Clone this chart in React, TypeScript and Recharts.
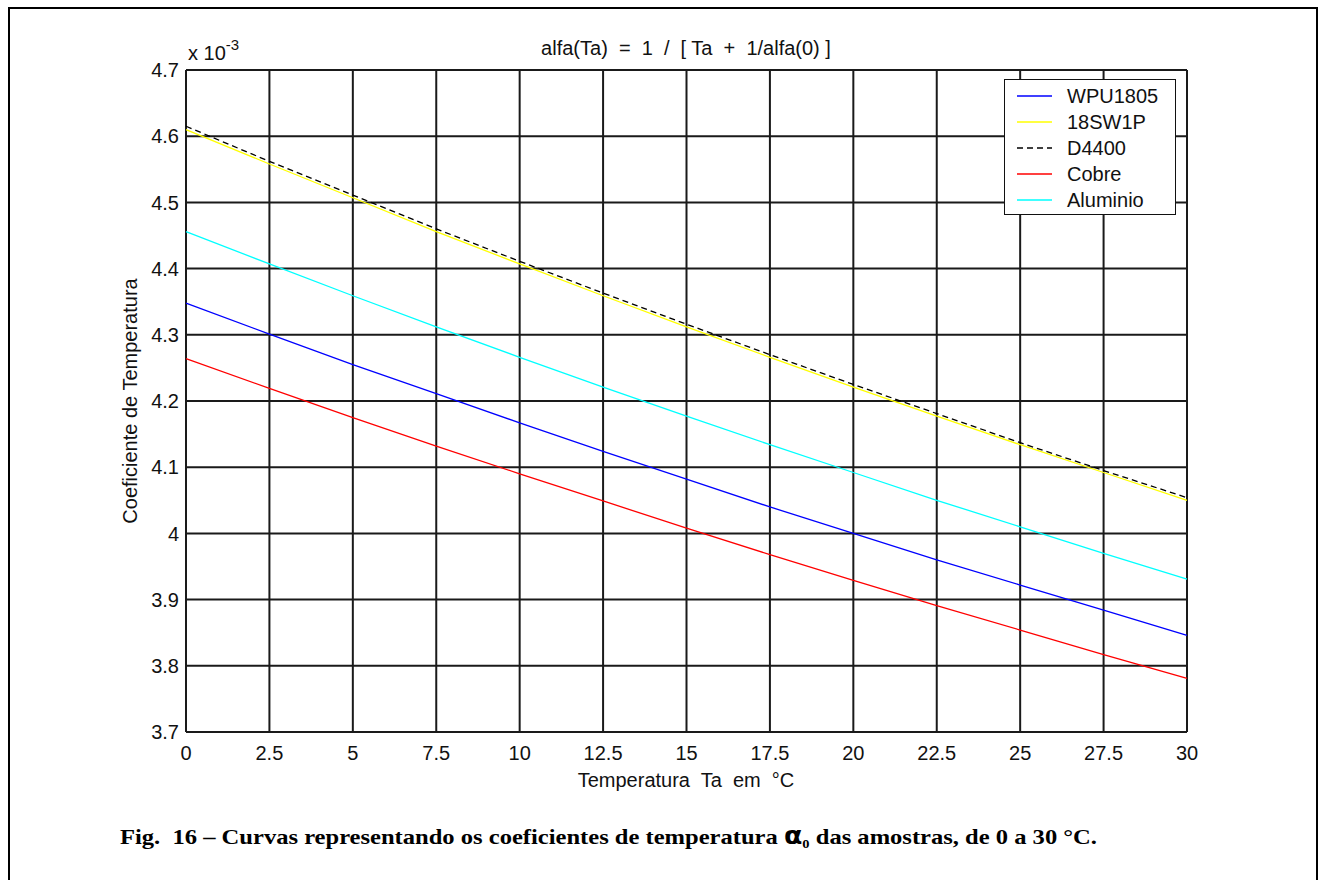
import { LineChart, Line, XAxis, YAxis, CartesianGrid, Legend } from "recharts";

// temperatura ambiente (°C)
const temps = [0, 2.5, 5, 7.5, 10, 12.5, 15, 17.5, 20, 22.5, 25, 27.5, 30];

// coeficientes de temperatura, em unidades de 10^-3
const wpu1805 = [4.348, 4.301, 4.255, 4.211, 4.167, 4.124, 4.082, 4.04, 4.0, 3.96, 3.922, 3.884, 3.846];
const sw1p = [4.61, 4.558, 4.507, 4.456, 4.407, 4.359, 4.312, 4.266, 4.221, 4.177, 4.134, 4.092, 4.05];
const d4400 = [4.615, 4.562, 4.511, 4.46, 4.411, 4.363, 4.316, 4.27, 4.225, 4.181, 4.137, 4.095, 4.054];
const cobre = [4.264, 4.219, 4.175, 4.132, 4.09, 4.049, 4.008, 3.968, 3.929, 3.891, 3.854, 3.817, 3.781];
const aluminio = [4.456, 4.407, 4.359, 4.312, 4.266, 4.221, 4.177, 4.134, 4.092, 4.05, 4.01, 3.97, 3.931];

const xTicks = [0, 2.5, 5, 7.5, 10, 12.5, 15, 17.5, 20, 22.5, 25, 27.5, 30];
const yTicks = [3.7, 3.8, 3.9, 4, 4.1, 4.2, 4.3, 4.4, 4.5, 4.6, 4.7];

const series = [
  { key: "wpu1805", name: "WPU1805", color: "#0000ff", dash: undefined },
  { key: "sw1p", name: "18SW1P", color: "#ffff00", dash: undefined },
  { key: "d4400", name: "D4400", color: "#000000", dash: "6 4" },
  { key: "cobre", name: "Cobre", color: "#ff0000", dash: undefined },
  { key: "aluminio", name: "Aluminio", color: "#00ffff", dash: undefined },
];

const data = temps.map((t, i) => ({
  t,
  wpu1805: wpu1805[i],
  sw1p: sw1p[i],
  d4400: d4400[i],
  cobre: cobre[i],
  aluminio: aluminio[i],
}));

const sans = "'Liberation Sans', Arial, sans-serif";
const tickStyle = { fontSize: 20, fill: "#111", fontFamily: sans };

const LegendBox = () => (
  <div
    style={{
      width: 172,
      height: 136,
      boxSizing: "border-box",
      border: "1.5px solid #111",
      background: "#fff",
      paddingTop: 3,
      fontFamily: sans,
      fontSize: 20,
      color: "#111",
    }}
  >
    {series.map((s) => (
      <div key={s.key} style={{ display: "flex", alignItems: "center", height: 26 }}>
        <svg width={62} height={26}>
          <line x1={12} x2={47} y1={13} y2={13} stroke={s.color} strokeWidth={1.5} strokeDasharray={s.dash} />
        </svg>
        <span>{s.name}</span>
      </div>
    ))}
  </div>
);

const App = () => {
  return (
    <div style={{ position: "absolute", left: 0, top: 0, width: 1320, height: 880, background: "#fff" }}>
      <div
        style={{
          position: "absolute",
          left: 8,
          top: 7,
          width: 1310,
          height: 880,
          boxSizing: "border-box",
          border: "2px solid #000",
          borderBottom: "none",
        }}
      />
      <LineChart
        width={1320}
        height={880}
        data={data}
        margin={{ top: 70, right: 133, bottom: 118, left: 126 }}
        style={{ position: "absolute", left: 0, top: 0 }}
      >
        <CartesianGrid stroke="#1a1a1a" strokeWidth={2} />
        <XAxis
          dataKey="t"
          type="number"
          domain={[0, 30]}
          ticks={xTicks}
          height={30}
          axisLine={false}
          tickLine={false}
          tickMargin={8}
          tick={tickStyle}
          interval={0}
        />
        <YAxis
          type="number"
          domain={[3.7, 4.7]}
          ticks={yTicks}
          width={60}
          axisLine={false}
          tickLine={false}
          tickMargin={1}
          tick={tickStyle}
          interval={0}
          tickFormatter={(v: number) => String(v)}
        />
        {/* vertical + center + middle keeps the legend from taking space off the plot */}
        <Legend
          layout="vertical"
          align="center"
          verticalAlign="middle"
          content={() => <LegendBox />}
          wrapperStyle={{ position: "absolute", left: 1004, top: 79, right: "auto", bottom: "auto", width: 172, height: 136 }}
        />
        {series.map((s) => (
          <Line
            key={s.key}
            dataKey={s.key}
            name={s.name}
            stroke={s.color}
            strokeWidth={1.3}
            strokeDasharray={s.dash}
            dot={false}
            activeDot={false}
            isAnimationActive={false}
          />
        ))}
      </LineChart>
      <svg
        width={1320}
        height={880}
        style={{ position: "absolute", left: 0, top: 0, pointerEvents: "none" }}
        fontFamily={sans}
        fill="#111"
      >
        <text x={686} y={48} fontSize={20} textAnchor="middle" dominantBaseline="central" style={{ whiteSpace: "pre" }}>
          {"alfa(Ta)  =  1  /  [ Ta  +  1/alfa(0) ]"}
        </text>
        <text x={188} y={53} fontSize={20} dominantBaseline="central">
          x 10
          <tspan fontSize={15} dy={-9}>-3</tspan>
        </text>
        <text x={686} y={780} fontSize={20} textAnchor="middle" dominantBaseline="central" style={{ whiteSpace: "pre" }}>
          {"Temperatura  Ta  em  °C"}
        </text>
        <text
          x={130}
          y={401}
          fontSize={20}
          textAnchor="middle"
          dominantBaseline="central"
          transform="rotate(-90 130 401)"
        >
          Coeficiente de Temperatura
        </text>
        <text
          x={120}
          y={844}
          fontSize={22}
          fontWeight="bold"
          fontFamily="'Liberation Serif', 'Times New Roman', serif"
          fill="#000"
          textLength={977}
          lengthAdjust="spacingAndGlyphs"
          style={{ whiteSpace: "pre" }}
        >
          {"Fig.  16 – Curvas representando os coeficientes de temperatura "}
          <tspan fontFamily="'DejaVu Sans', sans-serif" fontSize={24}>α</tspan>
          <tspan fontSize={13} dy={4}>0</tspan>
          <tspan dy={-4}>{" das amostras, de 0 a 30 °C."}</tspan>
        </text>
      </svg>
    </div>
  );
};

export default App;
